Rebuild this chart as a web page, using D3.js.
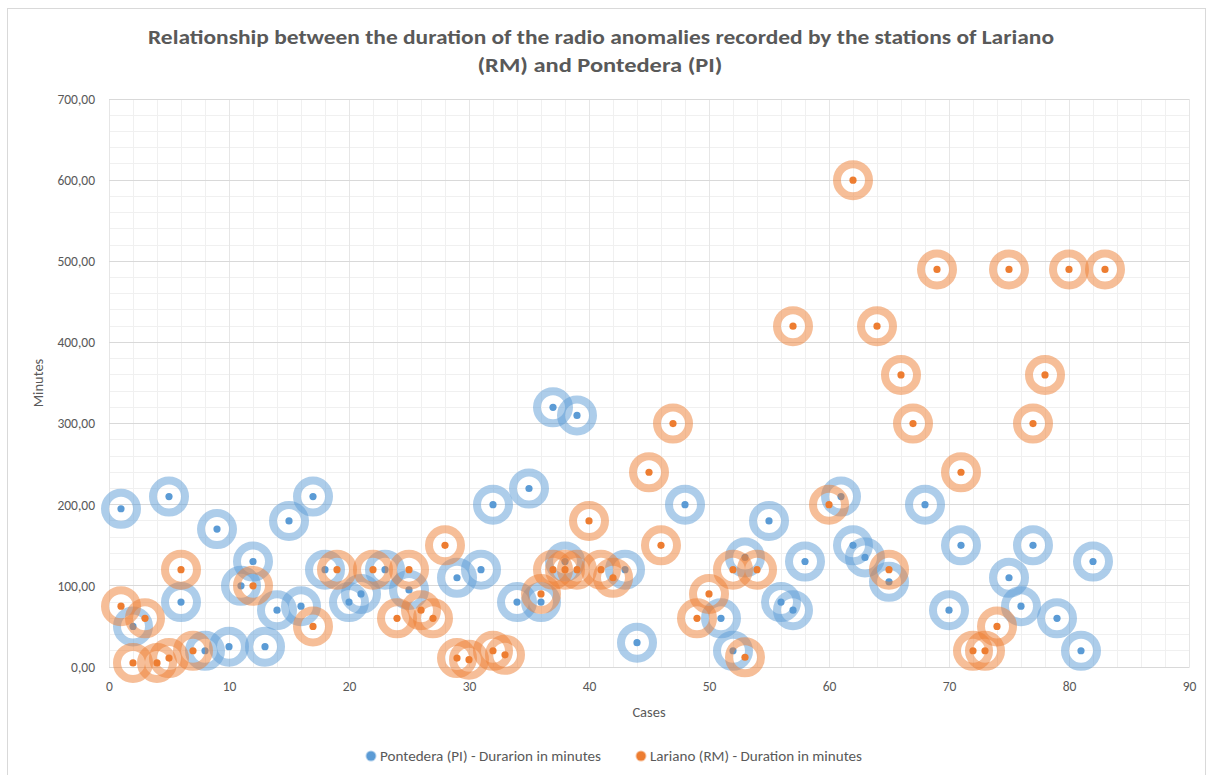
<!DOCTYPE html>
<html>
<head>
<meta charset="utf-8">
<script src="https://cdn.jsdelivr.net/npm/d3@7"></script>
<style>
  html, body { margin: 0; padding: 0; background: #ffffff; }
  svg { display: block; }
  text { font-family: Carlito, Calibri, Lato, "Open Sans", sans-serif; fill: #595959; }
</style>
</head>
<body>
<svg id="chart" width="1210" height="775"></svg>
<script>
// Case numbers and durations (minutes) for each station
const pontederaCases = [1, 2, 5, 6, 8, 9, 10, 11, 12, 13, 14, 15, 16, 17, 18, 20, 21, 23, 25, 29, 31, 32, 34, 35, 36, 37, 38, 39, 43, 44, 48, 51, 52, 53, 55, 56, 57, 58, 61, 62, 63, 65, 68, 70, 71, 75, 76, 77, 79, 81, 82];
const pontederaMinutes = [195, 50, 210, 80, 20, 170, 25, 100, 130, 25, 70, 180, 75, 210, 120, 80, 90, 120, 95, 110, 120, 200, 80, 220, 80, 320, 130, 310, 120, 30, 200, 60, 20, 135, 180, 80, 70, 130, 210, 150, 135, 105, 200, 70, 150, 110, 75, 150, 60, 20, 130];

const larianoCases = [1, 2, 3, 4, 5, 6, 7, 12, 17, 19, 22, 24, 25, 26, 27, 28, 29, 30, 32, 33, 36, 37, 38, 39, 40, 41, 42, 45, 46, 47, 49, 50, 52, 53, 54, 57, 60, 62, 64, 65, 66, 67, 69, 71, 72, 73, 74, 75, 77, 78, 80, 83];
const larianoMinutes = [75, 5, 60, 5, 11, 120, 20, 100, 50, 120, 120, 60, 120, 70, 60, 150, 11, 9, 20, 15, 90, 120, 120, 120, 180, 120, 110, 240, 150, 300, 60, 90, 120, 12, 120, 420, 200, 600, 420, 120, 360, 300, 490, 240, 20, 20, 50, 490, 300, 360, 490, 490];

const xTicks = [0, 10, 20, 30, 40, 50, 60, 70, 80, 90];
const yTicks = [0, 100, 200, 300, 400, 500, 600, 700];

const seriesNames = ["Pontedera (PI) - Durarion in minutes", "Lariano (RM) - Duration in minutes"];
const titleLines = ["Relationship between the duration of the radio anomalies recorded by the stations of Lariano", "(RM) and Pontedera (PI)"];

const colors = ["#5b9bd5", "#ed7d31"];

const series = [
  { name: seriesNames[0], color: colors[0], points: pontederaCases.map((c, i) => ({ x: c, y: pontederaMinutes[i] })) },
  { name: seriesNames[1], color: colors[1], points: larianoCases.map((c, i) => ({ x: c, y: larianoMinutes[i] })) }
];

const svg = d3.select("#chart");
const W = 1210, H = 775;
const plot = { left: 109, right: 1189, top: 99, bottom: 667 };

// Chart border
svg.append("rect")
  .attr("x", 7.5).attr("y", 8.5).attr("width", W - 12).attr("height", H - 6)
  .attr("fill", "#ffffff").attr("stroke", "#d9d9d9").attr("stroke-width", 1);

const x = d3.scaleLinear().domain([0, 90]).range([plot.left, plot.right]);
const y = d3.scaleLinear().domain([0, 700]).range([plot.bottom, plot.top]);

const grid = svg.append("g").attr("shape-rendering", "crispEdges");

// Minor gridlines
grid.selectAll("line.vminor").data(d3.range(0, 91, 2)).join("line")
  .attr("x1", d => x(d)).attr("x2", d => x(d))
  .attr("y1", plot.top).attr("y2", plot.bottom)
  .attr("stroke", "#f0f0f0");
grid.selectAll("line.hminor").data(d3.range(0, 701, 20)).join("line")
  .attr("x1", plot.left).attr("x2", plot.right)
  .attr("y1", d => y(d)).attr("y2", d => y(d))
  .attr("stroke", "#f0f0f0");

// Major gridlines
grid.selectAll("line.vmajor").data(xTicks).join("line")
  .attr("x1", d => x(d)).attr("x2", d => x(d))
  .attr("y1", plot.top).attr("y2", plot.bottom)
  .attr("stroke", "#e6e6e6");
grid.selectAll("line.hmajor").data(yTicks).join("line")
  .attr("x1", plot.left).attr("x2", plot.right)
  .attr("y1", d => y(d)).attr("y2", d => y(d))
  .attr("stroke", "#d9d9d9");

// Axes
const fmt = d3.formatLocale({ decimal: ",", thousands: ".", grouping: [3], currency: ["", ""] }).format(".2f");
const fontStack = "Carlito, Calibri, Lato, 'Open Sans', sans-serif";

const yAxis = svg.append("g")
  .attr("transform", `translate(${plot.left},0)`)
  .call(d3.axisLeft(y).tickValues(yTicks).tickFormat(fmt).tickSize(0).tickPadding(14));
yAxis.select(".domain").remove();
yAxis.selectAll("text").attr("font-size", 13.5).style("fill", "#595959").style("font-family", fontStack);

const xAxis = svg.append("g")
  .attr("transform", `translate(0,${plot.bottom})`)
  .call(d3.axisBottom(x).tickValues(xTicks).tickFormat(d3.format("d")).tickSize(0).tickPadding(14));
xAxis.select(".domain").attr("stroke", "#d9d9d9");
xAxis.selectAll("text").attr("font-size", 13.5).style("fill", "#595959").style("font-family", fontStack);

// Axis titles
svg.append("text")
  .attr("transform", `translate(43,${(plot.top + plot.bottom) / 2}) rotate(-90)`)
  .attr("text-anchor", "middle").attr("font-size", 14.5)
  .text("Minutes");
svg.append("text")
  .attr("x", (plot.left + plot.right) / 2).attr("y", 717)
  .attr("text-anchor", "middle").attr("font-size", 14.5)
  .text("Cases");

// Title
svg.append("text")
  .attr("x", 601).attr("y", 44)
  .attr("text-anchor", "middle").attr("font-size", 21).attr("font-weight", "bold")
  .attr("textLength", 906).attr("lengthAdjust", "spacingAndGlyphs")
  .text(titleLines[0]);
svg.append("text")
  .attr("x", 600).attr("y", 72)
  .attr("text-anchor", "middle").attr("font-size", 21).attr("font-weight", "bold")
  .attr("textLength", 245).attr("lengthAdjust", "spacingAndGlyphs")
  .text(titleLines[1]);

// Markers: a translucent ring with a solid centre dot
const marks = svg.append("g");
series.forEach(s => {
  const g = marks.append("g");
  const pt = g.selectAll("g.pt").data(s.points).join("g")
    .attr("transform", d => `translate(${x(d.x)},${y(d.y)})`);
  pt.append("circle")
    .attr("r", 16)
    .attr("fill", "none")
    .attr("stroke", s.color).attr("stroke-opacity", 0.5).attr("stroke-width", 8);
  pt.append("circle")
    .attr("r", 3.6)
    .attr("fill", s.color);
});

// Legend
const legendItems = [
  { name: series[0].name, color: series[0].color, cx: 371, tx: 380, len: 221 },
  { name: series[1].name, color: series[1].color, cx: 641, tx: 650, len: 212 }
];
const legend = svg.append("g");
legendItems.forEach(it => {
  legend.append("circle").attr("cx", it.cx).attr("cy", 756).attr("r", 4.5)
    .attr("fill", it.color).attr("stroke", it.color).attr("stroke-opacity", 0.45).attr("stroke-width", 2);
  legend.append("text").attr("x", it.tx).attr("y", 761)
    .attr("font-size", 14)
    .attr("textLength", it.len).attr("lengthAdjust", "spacingAndGlyphs")
    .text(it.name);
});
</script>
</body>
</html>
